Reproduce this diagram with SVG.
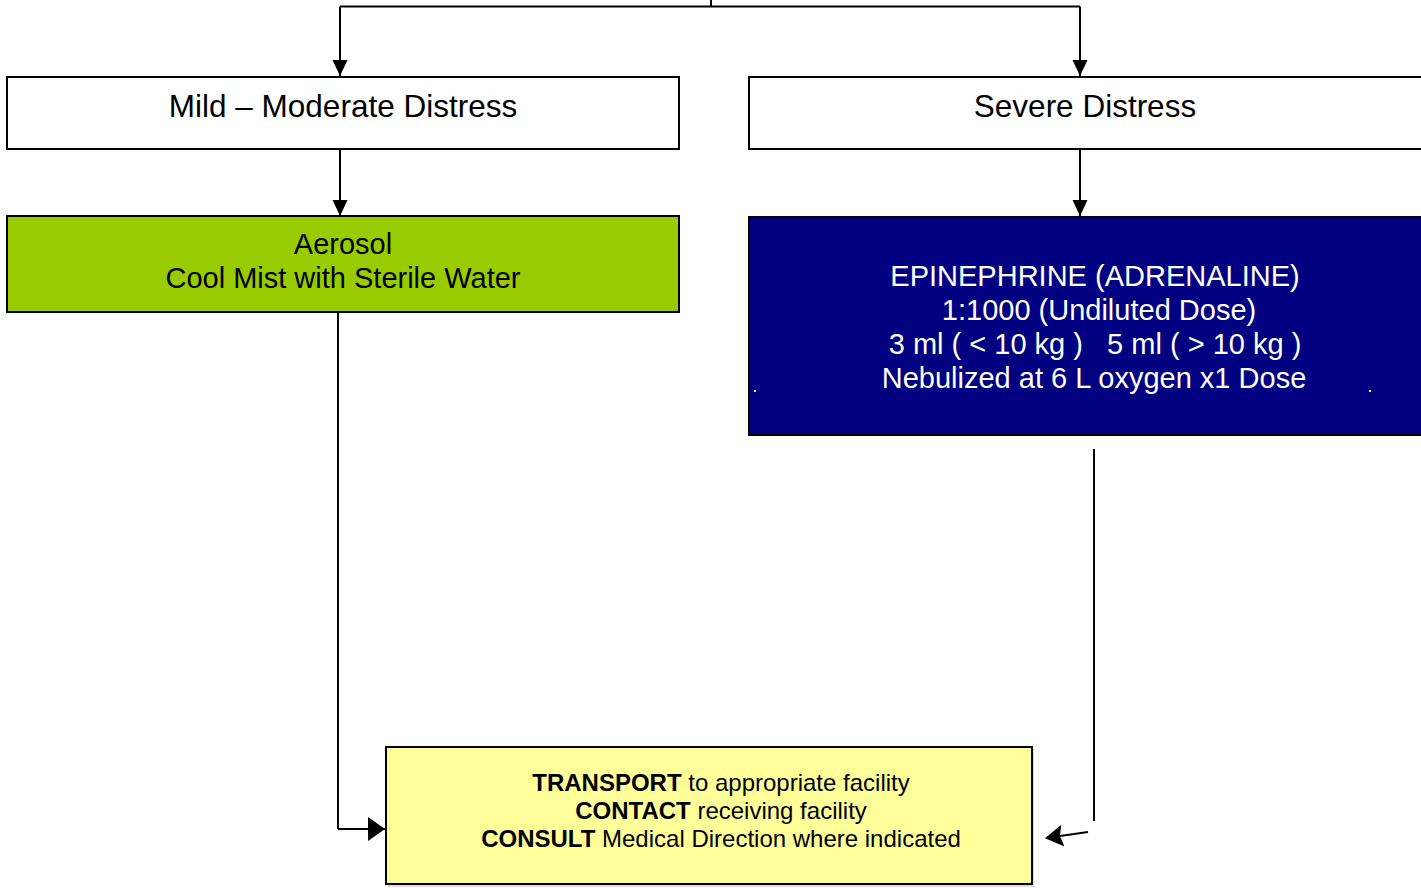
<svg xmlns="http://www.w3.org/2000/svg" width="1421" height="888" viewBox="0 0 1421 888">
<style>
.box{stroke:#000;stroke-width:2}
.t{font-family:"Liberation Sans",Arial,sans-serif;text-anchor:middle}
.c{fill:none;stroke:#000;stroke-width:2}
</style>
<defs>
<marker id="ah" markerWidth="16" markerHeight="16" refX="16" refY="8" orient="auto" markerUnits="userSpaceOnUse" viewBox="0 0 16 16">
<path d="M0,0.5 L16,8 L0,15.5 z" fill="#000"/>
</marker>
<marker id="ah2" markerWidth="18" markerHeight="24" refX="17" refY="12" orient="auto" markerUnits="userSpaceOnUse" viewBox="0 0 18 24">
<path d="M0,1 L18,12 L0,23 L3,12 z" fill="#000"/>
</marker>
<marker id="ah3" markerWidth="17" markerHeight="24" refX="17" refY="12" orient="auto" markerUnits="userSpaceOnUse" viewBox="0 0 17 24">
<path d="M0,0 L17,12 L0,24 z" fill="#000"/>
</marker>
</defs>
<rect width="1421" height="888" fill="#fff"/>
<g id="connectors">
<path class="c" d="M711,0 V6.5"/>
<path class="c" d="M340,6.5 H1080"/>
<path class="c" d="M340,6.5 V76" marker-end="url(#ah)"/>
<path class="c" d="M1080,6.5 V76" marker-end="url(#ah)"/>
<path class="c" d="M340,149 V216" marker-end="url(#ah)"/>
<path class="c" d="M1080,149 V216" marker-end="url(#ah)"/>
<path class="c" d="M338,312 V829"/>
<path class="c" d="M338,829 H385" stroke-width="3.5" marker-end="url(#ah3)"/>
<path class="c" d="M1094,449 V821" stroke-width="2.5"/>
<path class="c" d="M1088,832 L1046,838" stroke-width="3" marker-end="url(#ah2)"/>
</g>
<g id="n-mild">
<rect class="box" x="7" y="77" width="672" height="72" fill="#fff"/>
<text class="t" x="343" y="117" font-size="31.5">Mild – Moderate Distress</text>
</g>
<g id="n-severe">
<rect class="box" x="749" y="77" width="674" height="72" fill="#fff"/>
<text class="t" x="1085" y="117" font-size="31.5">Severe Distress</text>
</g>
<g id="n-aerosol">
<rect class="box" x="7" y="216" width="672" height="96" fill="#99CC00"/>
<text class="t" x="343" y="254" font-size="29">Aerosol</text>
<text class="t" x="343" y="288" font-size="29">Cool Mist with Sterile Water</text>
</g>
<g id="n-epi">
<rect class="box" x="749" y="217" width="674" height="218" fill="#000080" stroke-width="3"/>
<g fill="#fff" font-size="29" class="t">
<text x="1095" y="286">EPINEPHRINE (ADRENALINE)</text>
<text x="1099" y="320">1:1000 (Undiluted Dose)</text>
<text x="1095" y="354" xml:space="preserve">3 ml ( &lt; 10 kg )   5 ml ( &gt; 10 kg )</text>
<text x="1094" y="388">Nebulized at 6 L oxygen x1 Dose</text>
</g>
<rect x="754" y="390" width="2" height="2" fill="#fff"/>
<rect x="1369" y="390" width="2" height="2" fill="#fff"/>
</g>
<g id="n-transport">
<rect x="388" y="749" width="646" height="138" fill="#ddd"/>
<rect class="box" x="386" y="747" width="646" height="137" fill="#FFFF99"/>
<g class="t" font-size="24">
<text x="721" y="791"><tspan font-weight="bold">TRANSPORT</tspan> to appropriate facility</text>
<text x="721" y="819"><tspan font-weight="bold">CONTACT</tspan> receiving facility</text>
<text x="721" y="847"><tspan font-weight="bold">CONSULT</tspan> Medical Direction where indicated</text>
</g>
</g>
</svg>
